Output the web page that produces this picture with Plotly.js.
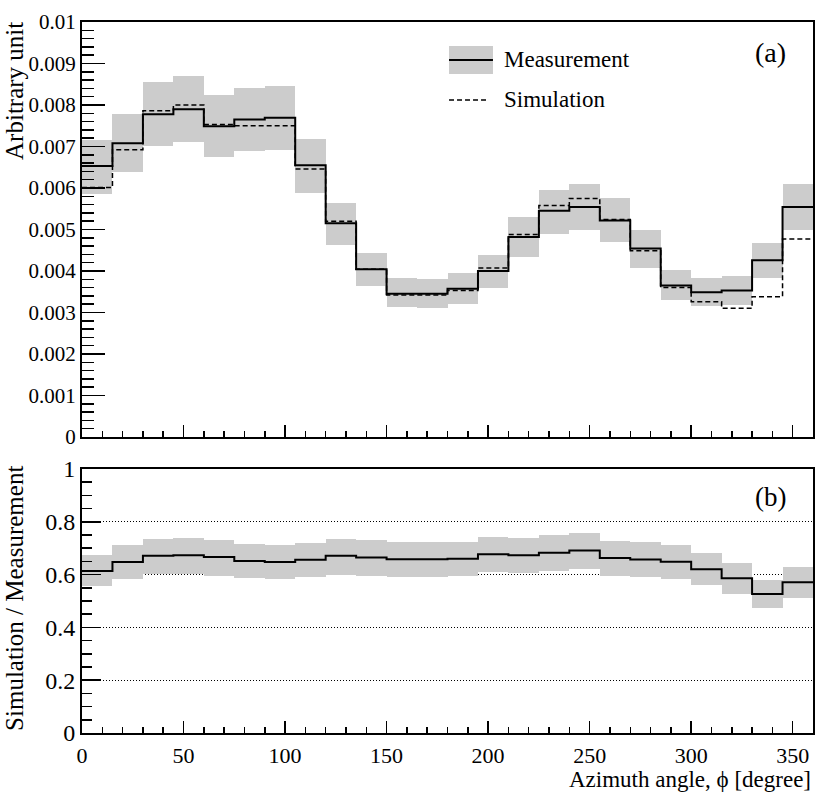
<!DOCTYPE html>
<html>
<head>
<meta charset="utf-8">
<script src="https://cdn.plot.ly/plotly-3.0.1.min.js"></script>
<style>
  html, body { margin: 0; padding: 0; background: #fff; }
  #chart { width: 830px; height: 797px; }
</style>
</head>
<body>
<div id="chart"></div>
<script>
/* ── Bins: lower edge of each 15 degree azimuth bin ── */
var phiEdges = [0, 15, 30, 45, 60, 75, 90, 105, 120, 135, 150, 165,
                180, 195, 210, 225, 240, 255, 270, 285, 300, 315, 330, 345];
var PHI_MAX = 360;
var BIN_W = 15;

/* ── (a) measurement, band, simulation ── */
var measVal = [0.00653, 0.00708, 0.00778, 0.00790, 0.00749, 0.00765, 0.00769, 0.00655,
               0.00515, 0.00404, 0.00345, 0.00345, 0.00357, 0.00400, 0.00482, 0.00545,
               0.00554, 0.00522, 0.00454, 0.00365, 0.00349, 0.00353, 0.00426, 0.00554];
var measHi  = [0.00716, 0.00779, 0.00855, 0.00869, 0.00825, 0.00841, 0.00845, 0.00719,
               0.00565, 0.00444, 0.00382, 0.00380, 0.00395, 0.00439, 0.00529, 0.00596,
               0.00610, 0.00575, 0.00499, 0.00403, 0.00384, 0.00387, 0.00467, 0.00610];
var measLo  = [0.00586, 0.00638, 0.00701, 0.00712, 0.00675, 0.00688, 0.00692, 0.00589,
               0.00463, 0.00365, 0.00313, 0.00312, 0.00321, 0.00359, 0.00433, 0.00488,
               0.00500, 0.00471, 0.00408, 0.00331, 0.00315, 0.00317, 0.00382, 0.00500];
var simVal  = [0.00601, 0.00692, 0.00786, 0.00800, 0.00753, 0.00750, 0.00750, 0.00646,
               0.00520, 0.00404, 0.00342, 0.00342, 0.00353, 0.00407, 0.00488, 0.00558,
               0.00575, 0.00524, 0.00449, 0.00360, 0.00326, 0.00310, 0.00338, 0.00477];

/* ── (b) ratio simulation / measurement ── */
var ratioVal = [0.614, 0.648, 0.671, 0.673, 0.667, 0.652, 0.648, 0.656,
                0.671, 0.665, 0.658, 0.658, 0.660, 0.677, 0.673, 0.683,
                0.691, 0.663, 0.657, 0.649, 0.620, 0.586, 0.527, 0.571];
var ratioHi  = [0.675, 0.712, 0.735, 0.738, 0.731, 0.715, 0.711, 0.721,
                0.735, 0.731, 0.724, 0.724, 0.725, 0.743, 0.739, 0.750,
                0.758, 0.726, 0.723, 0.712, 0.681, 0.643, 0.578, 0.627];
var ratioLo  = [0.555, 0.583, 0.601, 0.601, 0.595, 0.586, 0.583, 0.590,
                0.599, 0.596, 0.590, 0.590, 0.593, 0.608, 0.605, 0.615,
                0.622, 0.595, 0.590, 0.584, 0.559, 0.526, 0.473, 0.513];

/* ── Tick labels ── */
var xTickVals = [0, 50, 100, 150, 200, 250, 300, 350];
var xTickText = ['0', '50', '100', '150', '200', '250', '300', '350'];
var topTickVals = [0, 0.001, 0.002, 0.003, 0.004, 0.005, 0.006, 0.007, 0.008, 0.009, 0.01];
var topTickText = ['0', '0.001', '0.002', '0.003', '0.004', '0.005', '0.006', '0.007', '0.008', '0.009', '0.01'];
var botTickVals = [0, 0.2, 0.4, 0.6, 0.8, 1];
var botTickText = ['0', '0.2', '0.4', '0.6', '0.8', '1'];

var FONT = 'Liberation Serif, DejaVu Serif, serif';
var BAND = '#cccccc';

/* step outline: repeat the last value up to the right edge */
function stepX() { return phiEdges.concat([PHI_MAX]); }
function stepY(v) { return v.concat([v[v.length - 1]]); }
function diff(hi, lo) { return hi.map(function (h, i) { return h - lo[i]; }); }

function band(hi, lo, xa, ya) {
  return {
    type: 'bar', x: phiEdges, y: diff(hi, lo), base: lo,
    width: BIN_W, offset: 0, xaxis: xa, yaxis: ya,
    marker: { color: BAND, line: { width: 0 } },
    hoverinfo: 'skip', showlegend: false,
  };
}
function step(v, xa, ya, dash, w) {
  return {
    type: 'scatter', mode: 'lines', x: stepX(), y: stepY(v),
    xaxis: xa, yaxis: ya,
    line: { shape: 'hv', color: '#000', width: w, dash: dash },
    hoverinfo: 'skip', showlegend: false,
  };
}

var traces = [
  band(measHi, measLo, 'x2', 'y2'),
  step(simVal, 'x2', 'y2', '5px,3px', 1.5),
  step(measVal, 'x2', 'y2', 'solid', 2),
  band(ratioHi, ratioLo, 'x', 'y'),
  step(ratioVal, 'x', 'y', 'solid', 2),
];

var axBase = {
  ticks: 'inside', tickcolor: '#000', tickwidth: 1.5,
  showline: true, linecolor: '#000', linewidth: 2, mirror: true,
  zeroline: false, showgrid: false, fixedrange: true,
};
function ax(extra) { return Object.assign({}, axBase, extra); }

/* plot area: x 82..813, top panel y 22..437, bottom panel y 469..733 */
var layout = {
  width: 830, height: 797,
  margin: { l: 82, r: 17, t: 22, b: 64 },
  paper_bgcolor: '#fff', plot_bgcolor: 'rgba(0,0,0,0)',
  font: { family: FONT, color: '#000' },
  showlegend: false,
  bargap: 0,
  xaxis: ax({
    anchor: 'y', domain: [0, 1], range: [0, PHI_MAX],
    tickmode: 'array', tickvals: xTickVals, ticktext: xTickText,
    ticklen: 12, tickfont: { family: FONT, size: 22 }, ticklabelstandoff: 2,
    minor: { tickmode: 'linear', tick0: 0, dtick: 10, ticks: 'inside', ticklen: 6, tickcolor: '#000', tickwidth: 1.5 },
  }),
  xaxis2: ax({
    anchor: 'y2', matches: 'x', domain: [0, 1], range: [0, PHI_MAX],
    tickmode: 'array', tickvals: xTickVals, ticktext: xTickText,
    ticklen: 12, showticklabels: false,
    minor: { tickmode: 'linear', tick0: 0, dtick: 10, ticks: 'inside', ticklen: 6, tickcolor: '#000', tickwidth: 1.5 },
  }),
  yaxis: ax({
    anchor: 'x', domain: [0, 0.3713], range: [0, 1],
    tickmode: 'array', tickvals: botTickVals, ticktext: botTickText,
    ticklen: 19, tickfont: { family: FONT, size: 24 },
    showgrid: true, gridcolor: '#000', gridwidth: 1, griddash: '1px,2px',
    minor: { tickmode: 'linear', tick0: 0, dtick: 0.05, ticks: 'inside', ticklen: 10, tickcolor: '#000', tickwidth: 1.5, showgrid: false },
  }),
  yaxis2: ax({
    anchor: 'x2', domain: [0.4163, 1], range: [0, 0.01],
    tickmode: 'array', tickvals: topTickVals, ticktext: topTickText,
    ticklen: 23, tickfont: { family: FONT, size: 21 },
    minor: { tickmode: 'linear', tick0: 0, dtick: 0.0002, ticks: 'inside', ticklen: 12, tickcolor: '#000', tickwidth: 1.5 },
  }),
  shapes: [
    /* legend swatches */
    { type: 'rect', xref: 'paper', yref: 'paper', x0: 0.5021, x1: 0.5622, y0: 0.9269, y1: 0.9662,
      fillcolor: BAND, line: { width: 0 } },
    { type: 'line', xref: 'paper', yref: 'paper', x0: 0.5021, x1: 0.5622, y0: 0.9466, y1: 0.9466,
      line: { color: '#000', width: 2 } },
    { type: 'line', xref: 'paper', yref: 'paper', x0: 0.5021, x1: 0.5568, y0: 0.8903, y1: 0.8903,
      line: { color: '#000', width: 1.5, dash: '5px,3px' } },
  ],
  annotations: [
    { xref: 'paper', yref: 'paper', x: 0.5746, y: 0.9466, xanchor: 'left', yanchor: 'middle',
      text: 'Measurement', showarrow: false, font: { family: FONT, size: 23 } },
    { xref: 'paper', yref: 'paper', x: 0.5746, y: 0.8903, xanchor: 'left', yanchor: 'middle',
      text: 'Simulation', showarrow: false, font: { family: FONT, size: 23 } },
    { xref: 'paper', yref: 'paper', x: 0.9412, y: 0.9578, xanchor: 'center', yanchor: 'middle',
      text: '(a)', showarrow: false, font: { family: FONT, size: 28 } },
    { xref: 'paper', yref: 'paper', x: 0.9412, y: 0.3319, xanchor: 'center', yanchor: 'middle',
      text: '(b)', showarrow: false, font: { family: FONT, size: 27 } },
    { xref: 'paper', yref: 'paper', x: -0.0917, y: 0.903, xanchor: 'center', yanchor: 'middle',
      textangle: -90, text: 'Arbitrary unit', showarrow: false, font: { family: FONT, size: 25 } },
    { xref: 'paper', yref: 'paper', x: -0.0917, y: 0.19, xanchor: 'center', yanchor: 'middle',
      textangle: -90, text: 'Simulation / Measurement', showarrow: false, font: { family: FONT, size: 25 } },
    { xref: 'paper', yref: 'paper', x: 1, y: -0.0655, xanchor: 'right', yanchor: 'middle',
      text: 'Azimuth angle, \u03d5 [degree]', showarrow: false, font: { family: FONT, size: 23 } },
  ],
};

Plotly.newPlot('chart', traces, layout, { displayModeBar: false, staticPlot: true });
</script>
</body>
</html>
